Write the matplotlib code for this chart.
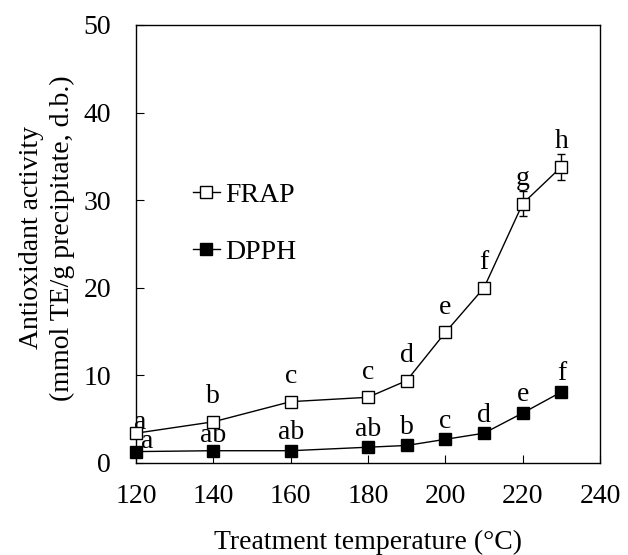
import numpy as np
import matplotlib.pyplot as plt
from matplotlib.lines import Line2D

plt.rcParams['font.family'] = ['Liberation Serif', 'DejaVu Serif']

temperatura = [120, 140, 160, 180, 190, 200, 210, 220, 230]
frap = [3.4, 4.7, 7.0, 7.5, 9.4, 14.9, 20.0, 29.6, 33.8]
frap_err = [0.3, 0.3, 0.3, 0.3, 0.4, 0.5, 0.5, 1.4, 1.5]
dpph = [1.3, 1.4, 1.4, 1.8, 2.0, 2.7, 3.4, 5.7, 8.1]
dpph_err = [0.1, 0.1, 0.1, 0.2, 0.2, 0.2, 0.2, 0.3, 0.6]
lettere_frap = ['a', 'b', 'c', 'c', 'd', 'e', 'f', 'g', 'h']
lettere_dpph = ['a', 'ab', 'ab', 'ab', 'b', 'c', 'd', 'e', 'f']

fs = 20
fig = plt.figure(figsize=(6.28, 5.55), dpi=100)
ax = fig.add_axes([0.2166, 0.1658, 0.7388, 0.7892])

for y, e, fc in [(frap, frap_err, 'white'), (dpph, dpph_err, 'black')]:
    _, caps, bars = ax.errorbar(temperatura, y, yerr=e, fmt='-s', color='black', lw=1,
                                mfc=fc, mec='black', ms=9, capsize=3, elinewidth=1, zorder=3)
    for c in caps:
        c.set_clip_on(False)
    for b in bars:
        b.set_clip_on(False)
for l in ax.lines:
    l.set_clip_on(False)

# lettere di significativita sopra i punti (spostamenti in punti tipografici)
for i in range(len(temperatura)):
    dx, dy = (3, 8) if i == 0 else (0, 18)
    ax.annotate(lettere_frap[i], (temperatura[i], frap[i]), xytext=(dx, dy),
                textcoords='offset points', ha='center', va='center', fontsize=fs)
    dx, dy = (8, 7) if i == 0 else ((0, 11) if i == 1 else (0, 13))
    ax.annotate(lettere_dpph[i], (temperatura[i], dpph[i]), xytext=(dx, dy),
                textcoords='offset points', ha='center', va='center', fontsize=fs)

ax.set_xlim(120, 240)
ax.set_ylim(0, 50)
ax.set_xticks(np.arange(120, 241, 20))
ax.set_yticks(np.arange(0, 51, 10))
ax.tick_params(direction='in', length=6, labelsize=fs)
ax.tick_params(axis='x', pad=15)
ax.tick_params(axis='y', pad=18)
for s in ax.spines.values():
    s.set_linewidth(1)

ax.set_xlabel('Treatment temperature (°C)', fontsize=fs, labelpad=15)
ax.set_ylabel('Antioxidant activity\n(mmol TE/g precipitate, d.b.)', fontsize=fs,
              linespacing=1.3)
ax.yaxis.set_label_coords(-0.131, 0.514)

maniglie = [Line2D([], [], color='black', lw=1, marker='s', ms=9, mfc='white', mec='black'),
            Line2D([], [], color='black', lw=1, marker='s', ms=9, mfc='black', mec='black')]
ax.legend(maniglie, ['FRAP', 'DPPH'], loc='upper left', bbox_to_anchor=(0.068, 0.697),
          frameon=False, fontsize=fs, handlelength=1.0, handletextpad=0.18, labelspacing=1.12)

plt.savefig('out.png', dpi=100)
